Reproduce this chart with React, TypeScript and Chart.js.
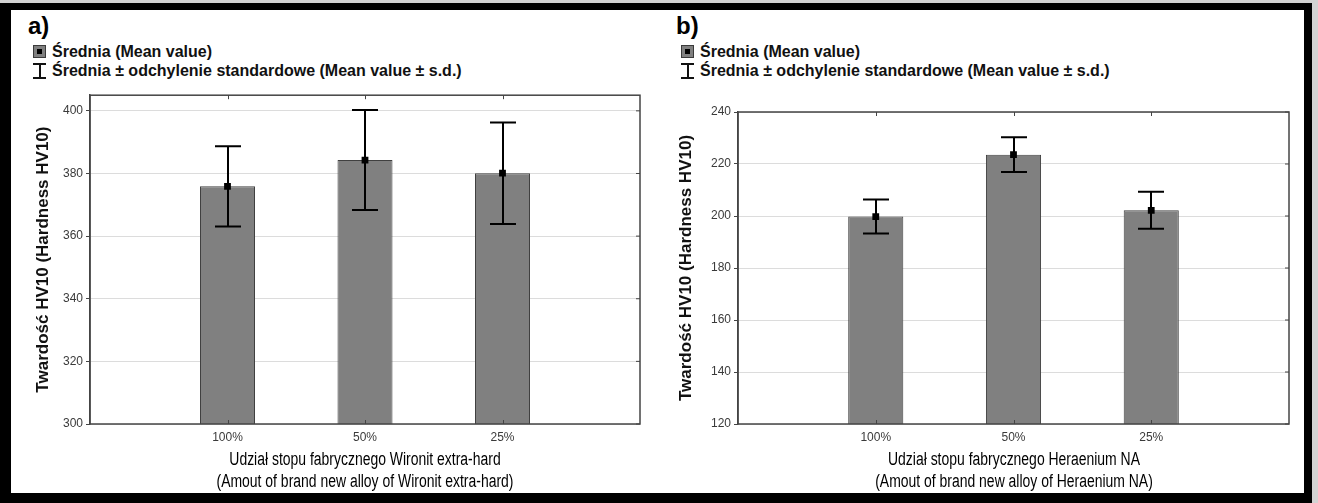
import React, { useEffect, useRef } from 'react';
import { Chart, registerables } from 'chart.js';

Chart.register(...registerables);

// ---- data ----
const categories = ['', '100%', '50%', '25%', ''];
const meansA: (number | null)[] = [null, 375.9, 384.3, 380.1, null];
const sdA: (number | null)[] = [null, 12.8, 16.0, 16.2, null];
const meansB: (number | null)[] = [null, 199.8, 223.6, 202.2, null];
const sdB: (number | null)[] = [null, 6.5, 6.7, 7.1, null];
const yTicksA = [300, 320, 340, 360, 380, 400];
const yTicksB = [120, 140, 160, 180, 200, 220, 240];
const xTitleA = ['Udział stopu fabrycznego Wironit extra-hard', '(Amout of brand new alloy of Wironit extra-hard)'];
const xTitleB = ['Udział stopu fabrycznego Heraenium NA', '(Amout of brand new alloy of Heraenium NA)'];
const yTitle = 'Twardość HV10 (Hardness HV10)';
const legendMean = 'Średnia (Mean value)';
const legendSdA = 'Średnia  ± odchylenie standardowe (Mean value ± s.d.)';
const legendSdB = 'Średnia ± odchylenie standardowe (Mean value ± s.d.)';

const SANS = "'Liberation Sans', Arial, sans-serif";

function errorPlugin(means: (number | null)[], sds: (number | null)[]) {
  return {
    id: 'errorBars',
    afterDatasetDraw(chart: any, args: any) {
      if (args.index !== 0) return;
      const { ctx, scales } = chart;
      const x = scales.x;
      const y = scales.y;
      ctx.save();
      ctx.strokeStyle = '#000';
      ctx.lineWidth = 2;
      means.forEach((m, i) => {
        const s = sds[i];
        if (m == null || s == null) return;
        const px = Math.round(x.getPixelForValue(i));
        const top = y.getPixelForValue(m + s);
        const bot = y.getPixelForValue(m - s);
        ctx.beginPath();
        ctx.moveTo(px, top);
        ctx.lineTo(px, bot);
        ctx.moveTo(px - 13, top);
        ctx.lineTo(px + 13, top);
        ctx.moveTo(px - 13, bot);
        ctx.lineTo(px + 13, bot);
        ctx.stroke();
      });
      ctx.restore();
    },
  };
}

const framePlugin = {
  id: 'frameBox',
  afterDraw(chart: any) {
    const { ctx, chartArea: a, scales } = chart;
    ctx.save();
    ctx.strokeStyle = '#444';
    ctx.lineWidth = 1.5;
    ctx.strokeRect(a.left, a.top, a.right - a.left, a.bottom - a.top);
    ctx.lineWidth = 1;
    ctx.beginPath();
    scales.x.ticks.forEach((t: any, i: number) => {
      if (!categories[i]) return;
      const px = Math.round(scales.x.getPixelForValue(i)) + 0.5;
      ctx.moveTo(px, a.top);
      ctx.lineTo(px, a.top + 4);
      ctx.moveTo(px, a.bottom);
      ctx.lineTo(px, a.bottom - 4);
    });
    scales.y.ticks.forEach((t: any) => {
      const py = scales.y.getPixelForValue(t.value);
      ctx.moveTo(a.right, py);
      ctx.lineTo(a.right - 4, py);
    });
    ctx.stroke();
    ctx.restore();
  },
};

type PanelProps = {
  means: (number | null)[];
  sds: (number | null)[];
  yMin: number;
  yMax: number;
  yTicks: number[];
  width: number;
  height: number;
  padTop: number;
  padRight: number;
  yTitlePad: number;
  left: number;
  top: number;
};

function Panel(p: PanelProps) {
  const ref = useRef<HTMLCanvasElement>(null);
  useEffect(() => {
    if (!ref.current) return;
    const chart = new Chart(ref.current, {
      data: {
        labels: categories,
        datasets: [
          {
            type: 'bar',
            data: p.means as any,
            backgroundColor: '#808080',
            borderColor: '#404040',
            borderWidth: 1,
            barPercentage: 0.4,
            categoryPercentage: 1,
            order: 1,
          },
          {
            type: 'line',
            data: p.means as any,
            showLine: false,
            pointStyle: 'rect',
            pointRadius: 4.8,
            pointBorderWidth: 0,
            pointBackgroundColor: '#000',
            pointBorderColor: '#000',
            order: 0,
          },
        ],
      } as any,
      options: {
        animation: false,
        responsive: false,
        events: [],
        layout: { padding: { top: p.padTop, right: p.padRight, left: 0, bottom: 0 } },
        plugins: { legend: { display: false }, tooltip: { enabled: false } },
        scales: {
          x: {
            type: 'category',
            offset: false,
            grid: { display: false, drawTicks: false, tickLength: 0 },
            border: { display: false },
            ticks: { color: '#3a3a3a', font: { family: SANS, size: 12 }, padding: 6, maxRotation: 0, autoSkip: false },
            title: { display: false },
            afterFit: (s: any) => {
              s.height = 69;
            },
          },
          y: {
            type: 'linear',
            min: p.yMin,
            max: p.yMax,
            grid: { color: '#dcdcdc', lineWidth: 1, drawTicks: true, tickLength: 4, tickColor: '#444' },
            border: { display: true, color: '#444', width: 1.5 },
            ticks: { color: '#3a3a3a', font: { family: SANS, size: 12 }, padding: 3 },
            afterBuildTicks: (s: any) => {
              s.ticks = p.yTicks.map((v) => ({ value: v }));
            },
            title: {
              display: true,
              text: yTitle,
              color: '#111',
              font: { family: SANS, size: 17, weight: 'bold', lineHeight: 1.2 },
              padding: { top: p.yTitlePad, bottom: 0 },
            },
            afterFit: (s: any) => {
              s.width = 78;
            },
          },
        },
      } as any,
      plugins: [errorPlugin(p.means, p.sds), framePlugin],
    });
    return () => chart.destroy();
  }, []);
  return (
    <div style={{ position: 'absolute', left: p.left, top: p.top, width: p.width, height: p.height }}>
      <canvas ref={ref} width={p.width} height={p.height} style={{ display: 'block' }} />
    </div>
  );
}

function XTitle({ center, lines }: { center: number; lines: string[] }) {
  return (
    <div
      style={{
        position: 'absolute',
        left: center,
        top: 448,
        transform: 'translateX(-50%) scaleX(0.775)',
        fontFamily: SANS,
        fontSize: 18,
        lineHeight: '22px',
        textAlign: 'center',
        whiteSpace: 'nowrap',
        color: '#000',
      }}
    >
      {lines.map((l, i) => (
        <div key={i}>{l}</div>
      ))}
    </div>
  );
}

function Legend({ left, top, sdText }: { left: number; top: number; sdText: string }) {
  const txt: React.CSSProperties = {
    position: 'absolute',
    left: 19,
    fontFamily: SANS,
    fontWeight: 'bold',
    fontSize: 16,
    lineHeight: '19px',
    whiteSpace: 'nowrap',
    color: '#111',
  };
  return (
    <div style={{ position: 'absolute', left, top }}>
      <div
        style={{
          position: 'absolute',
          left: 0,
          top: 3,
          width: 11,
          height: 11,
          background: '#808080',
          border: '1px solid #3a3a3a',
        }}
      >
        <div style={{ position: 'absolute', left: 3, top: 3, width: 5, height: 5, background: '#000' }} />
      </div>
      <div style={{ ...txt, top: 0 }}>{legendMean}</div>
      <div style={{ position: 'absolute', left: 0, top: 21, width: 13, height: 16 }}>
        <div style={{ position: 'absolute', left: 0, top: 0, width: 13, height: 2, background: '#111' }} />
        <div style={{ position: 'absolute', left: 5.5, top: 0, width: 2, height: 16, background: '#111' }} />
        <div style={{ position: 'absolute', left: 0, top: 14, width: 13, height: 2, background: '#111' }} />
      </div>
      <div style={{ ...txt, top: 19 }}>{sdText}</div>
    </div>
  );
}

export default function App() {
  const label: React.CSSProperties = {
    position: 'absolute',
    fontFamily: SANS,
    fontWeight: 'bold',
    fontSize: 24,
    lineHeight: '26px',
    color: '#000',
  };
  return (
    <div style={{ position: 'fixed', left: 0, top: 0, width: 1318, height: 503, background: '#d2d2d2', overflow: 'hidden' }}>
      <div style={{ position: 'absolute', left: 0, top: 3, width: 1312, height: 500, background: '#000' }} />
      <div style={{ position: 'absolute', left: 11, top: 10, width: 1293, height: 483, background: '#fff' }} />
      <div style={{ ...label, left: 28, top: 13 }}>a)</div>
      <div style={{ ...label, left: 676, top: 13 }}>b)</div>
      <Legend left={33} top={42} sdText={legendSdA} />
      <Legend left={681} top={42} sdText={legendSdB} />
      <Panel
        means={meansA}
        sds={sdA}
        yMin={300}
        yMax={405}
        yTicks={yTicksA}
        width={640}
        height={408}
        padTop={10}
        padRight={12}
        yTitlePad={21}
        left={12}
        top={85}
      />
      <Panel
        means={meansB}
        sds={sdB}
        yMin={120}
        yMax={240}
        yTicks={yTicksB}
        width={644}
        height={408}
        padTop={27}
        padRight={15}
        yTitlePad={16}
        left={660}
        top={85}
      />
      <XTitle center={365} lines={xTitleA} />
      <XTitle center={1013.5} lines={xTitleB} />
    </div>
  );
}
